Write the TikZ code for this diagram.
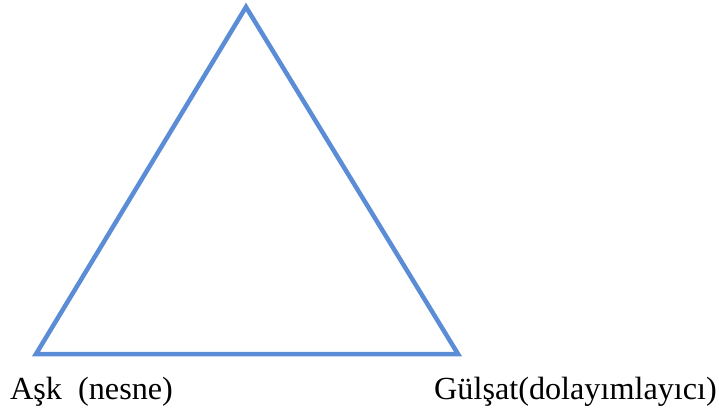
\documentclass[tikz,border=0pt]{standalone}
\usepackage{fontspec}
\setmainfont{Liberation Serif}
\definecolor{triblue}{HTML}{5A8DD6}
\begin{document}
\begin{tikzpicture}[x=1pt,y=-1pt,
  edge/.style={draw=triblue,line width=4.5pt,line join=miter},
  lbl/.style={font=\fontsize{32.2}{37}\selectfont,inner sep=0pt}]
\useasboundingbox (0,0) rectangle (719,408);
\coordinate (top) at (246,7);
\coordinate (left) at (36,354);
\coordinate (right) at (458,354);
\draw[edge] (top) -- (left) -- (right) -- cycle;
\node[lbl,anchor=base west] (ask) at (10,399) {Aşk\ \ (nesne)};
\node[lbl,anchor=base east] (gul) at (717,399) {Gülşat(dolayımlayıcı)};
\end{tikzpicture}
\end{document}
